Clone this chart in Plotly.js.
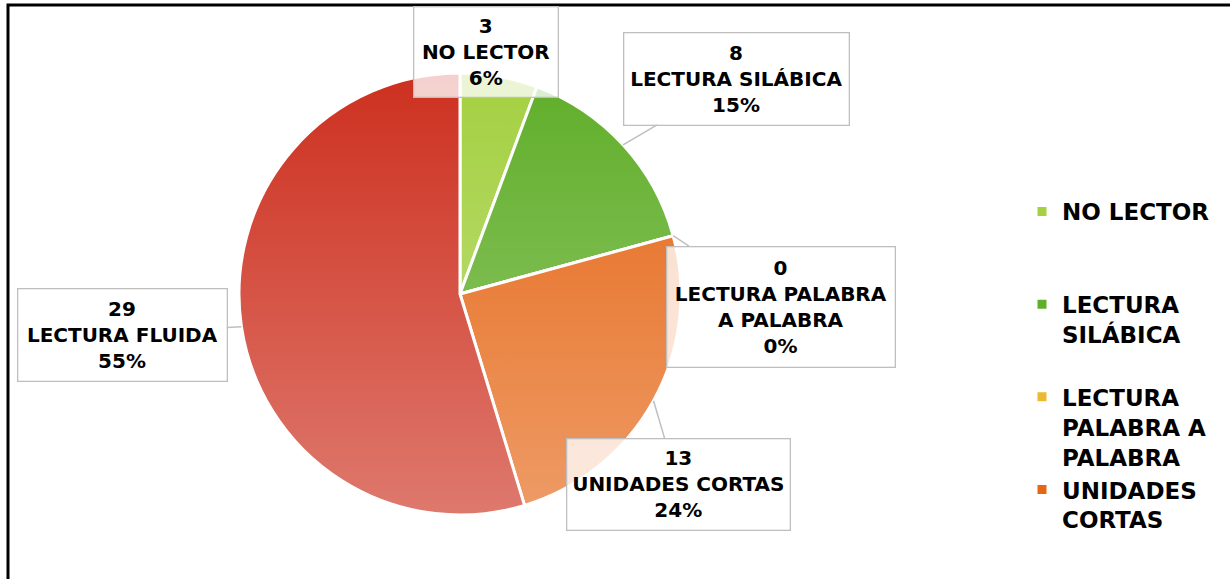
<!DOCTYPE html>
<html>
<head>
<meta charset="utf-8">
<script src="https://cdn.plot.ly/plotly-3.0.1.min.js"></script>
<style>
html, body { margin: 0; padding: 0; background: #ffffff; }
#chart { width: 1230px; height: 579px; }
.legend .scrollbar { display: none; }
</style>
</head>
<body>
<div id="chart"></div>
<script>
// ---- data ----
const categories = ['NO LECTOR', 'LECTURA SILÁBICA', 'LECTURA PALABRA A PALABRA', 'UNIDADES CORTAS', 'LECTURA FLUIDA'];
const values = [3, 8, 0, 13, 29];
const percentLabels = ['6%', '15%', '0%', '24%', '55%'];
const legendLabels = ['NO LECTOR', 'LECTURA<br>SILÁBICA', 'LECTURA<br>PALABRA A<br>PALABRA', 'UNIDADES<br>CORTAS', 'LECTURA<br>FLUIDA'];
const calloutLabels = ['NO LECTOR', 'LECTURA SILÁBICA', 'LECTURA PALABRA<br>A PALABRA', 'UNIDADES CORTAS', 'LECTURA FLUIDA'];

// ---- styling / layout ----
const sliceColors = ['#a4d041', '#60ae29', '#ebb932', '#e56615', '#cd301f'];
const W = 1230, H = 579;
const pieCenter = { x: 460, y: 294 };
const pieRadius = 221;
const calloutBoxes = [
  { cx: 485.5, cy: 51.5, w: 145, h: 91 },
  { cx: 736, cy: 78.5, w: 226, h: 93 },
  { cx: 780.5, cy: 306.5, w: 229, h: 121 },
  { cx: 678, cy: 484, w: 224, h: 92 },
  { cx: 122, cy: 334.5, w: 210, h: 93 }
];
const FONT = 'DejaVu Sans, Verdana, sans-serif';
const visibleLegendEntries = 4; // the reference's legend overflows below the frame after four entries

const domain = {
  x: [(pieCenter.x - pieRadius) / W, (pieCenter.x + pieRadius) / W],
  y: [1 - (pieCenter.y + pieRadius) / H, 1 - (pieCenter.y - pieRadius) / H]
};

// legend labels padded to three lines so entries are spaced like the reference
const paddedLegend = legendLabels.map(l => {
  const n = l.split('<br>').length;
  return l + '<br>\u00a0'.repeat(Math.max(0, 3 - n));
});

const total = values.reduce((a, b) => a + b, 0);
let cum = 0;
const annotations = values.map((v, i) => {
  const theta = 2 * Math.PI * (cum + v / 2) / total;
  cum += v;
  const px = pieCenter.x + pieRadius * Math.sin(theta);
  const py = pieCenter.y - pieRadius * Math.cos(theta);
  const b = calloutBoxes[i];
  const inside = px > b.cx - b.w / 2 && px < b.cx + b.w / 2 && py > b.cy - b.h / 2 && py < b.cy + b.h / 2;
  const base = {
    xref: 'paper', yref: 'paper',
    text: values[i] + '<br>' + calloutLabels[i] + '<br>' + percentLabels[i],
    font: { family: FONT, size: 20, color: '#000000', weight: 'bold' },
    align: 'center',
    width: b.w - 2, height: b.h - 2,
    bgcolor: 'rgba(255,255,255,0.78)',
    bordercolor: '#bfbfbf', borderwidth: 1.3, borderpad: 0
  };
  if (inside) {
    return Object.assign(base, { x: b.cx / W, y: 1 - b.cy / H, showarrow: false, xanchor: 'center', yanchor: 'middle' });
  }
  return Object.assign(base, {
    x: px / W, y: 1 - py / H,
    showarrow: true, arrowhead: 0, arrowwidth: 1.5, arrowcolor: '#bfbfbf',
    ax: b.cx - px, ay: b.cy - py, standoff: 0
  });
});

const gradSvg = '<svg xmlns="http://www.w3.org/2000/svg" width="100" height="100" viewBox="0 0 100 100" preserveAspectRatio="none">' +
  '<defs><linearGradient id="g" x1="0" y1="0" x2="0" y2="1">' +
  '<stop offset="0" stop-color="#ffffff" stop-opacity="0"/>' +
  '<stop offset="1" stop-color="#ffffff" stop-opacity="0.35"/>' +
  '</linearGradient></defs><rect width="100" height="100" fill="url(#g)"/></svg>';

const trace = {
  type: 'pie',
  labels: paddedLegend,
  values: values,
  customdata: categories,
  sort: false,
  direction: 'clockwise',
  rotation: 0,
  textinfo: 'none',
  hovertemplate: '%{customdata}: %{value} (%{percent})<extra></extra>',
  marker: { colors: sliceColors, line: { color: '#ffffff', width: 3 } },
  domain: domain,
  showlegend: true
};

const layout = {
  width: W, height: H,
  margin: { l: 0, r: 0, t: 0, b: 0 },
  paper_bgcolor: '#ffffff',
  showlegend: true,
  legend: {
    x: 1022 / W, xanchor: 'left',
    y: 1 - 190 / H, yanchor: 'top',
    maxheight: 372,
    font: { family: FONT, size: 23, color: '#000000', weight: 'bold' },
    valign: 'top',
    bgcolor: 'rgba(0,0,0,0)',
    traceorder: 'normal'
  },
  annotations: annotations,
  images: [{
    source: 'data:image/svg+xml;charset=utf-8,' + encodeURIComponent(gradSvg),
    xref: 'paper', yref: 'paper',
    x: domain.x[0], y: domain.y[1],
    sizex: domain.x[1] - domain.x[0], sizey: domain.y[1] - domain.y[0],
    xanchor: 'left', yanchor: 'top', sizing: 'stretch', layer: 'above'
  }],
  shapes: [{
    type: 'rect', xref: 'paper', yref: 'paper',
    x0: 8 / W, x1: 1.05, y0: -0.05, y1: 1 - 5 / H,
    line: { color: '#000000', width: 3 }, fillcolor: 'rgba(0,0,0,0)'
  }]
};

Plotly.newPlot('chart', [trace], layout, { displayModeBar: false, staticPlot: true }).then(gd => {
  const items = Array.from(gd.querySelectorAll('.legend .traces'));
  items.forEach((el, i) => { if (i >= visibleLegendEntries) el.remove(); });
});
</script>
</body>
</html>
